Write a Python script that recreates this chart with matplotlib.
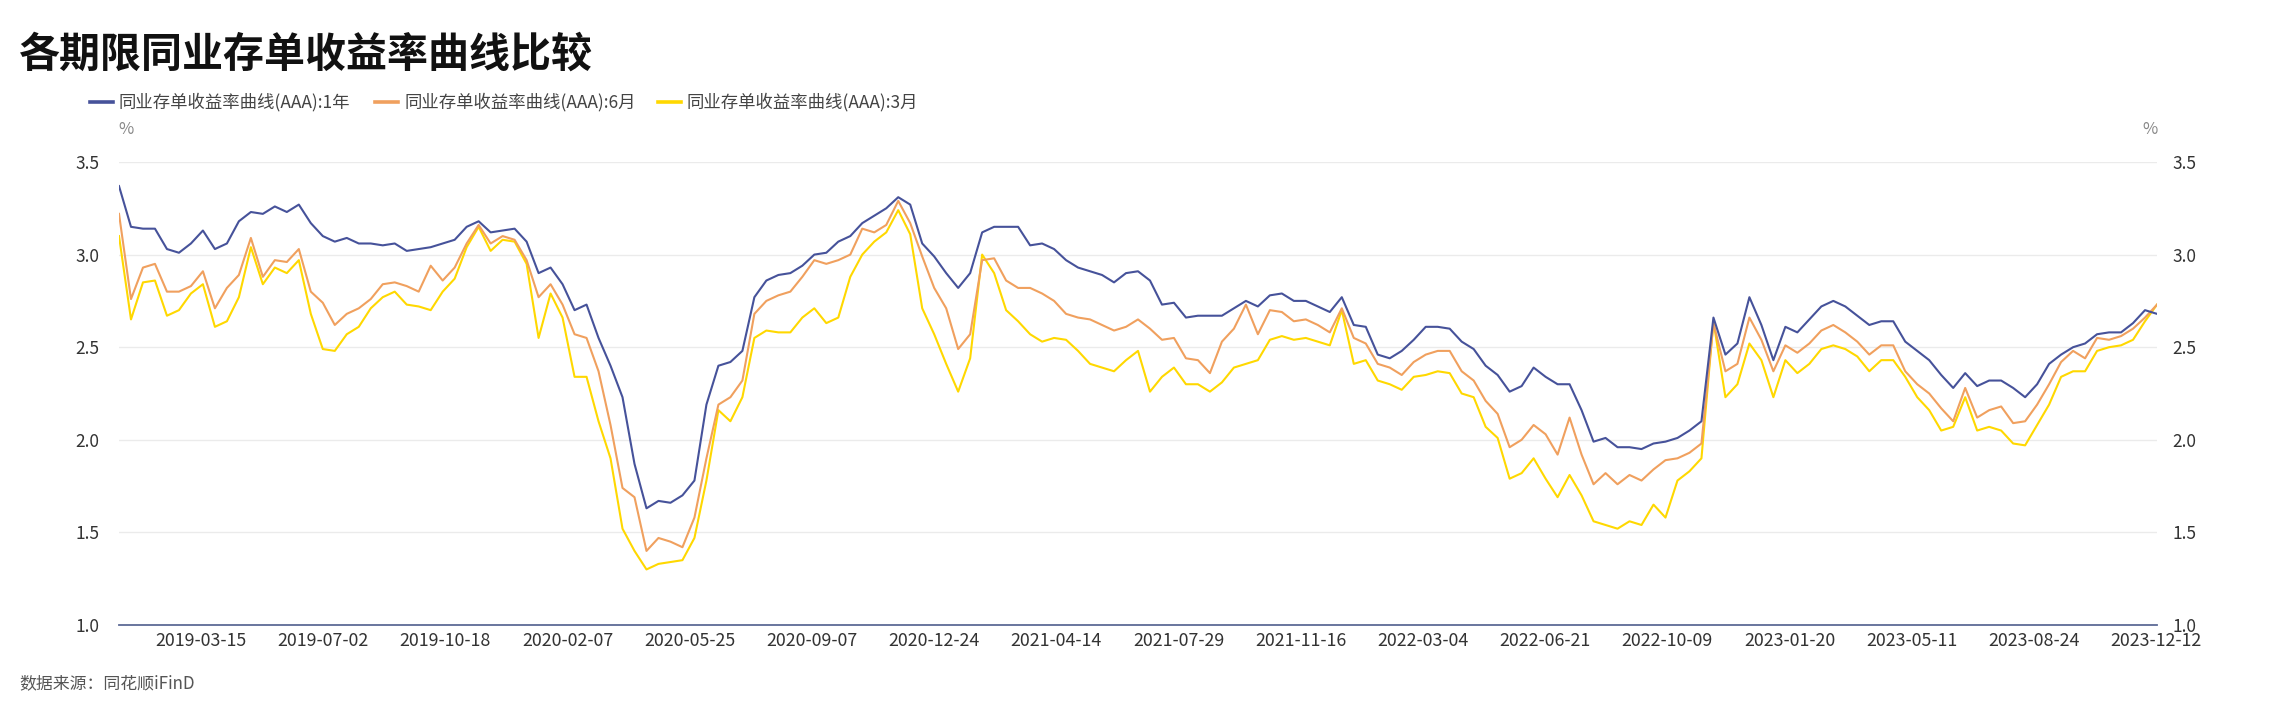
import numpy as np
import matplotlib
matplotlib.use("Agg")
import matplotlib.pyplot as plt
from matplotlib.lines import Line2D

plt.rcParams['font.family'] = ['Noto Sans CJK SC', 'DejaVu Sans']

title = "各期限同业存单收益率曲线比较"
source = "数据来源：同花顺iFinD"
series_names = ["同业存单收益率曲线(AAA):1年", "同业存单收益率曲线(AAA):6月", "同业存单收益率曲线(AAA):3月"]
colors = ["#46529a", "#f0a05e", "#ffd800"]

date_labels = ["2019-03-15", "2019-07-02", "2019-10-18", "2020-02-07", "2020-05-25",
               "2020-09-07", "2020-12-24", "2021-04-14", "2021-07-29", "2021-11-16",
               "2022-03-04", "2022-06-21", "2022-10-09", "2023-01-20", "2023-05-11",
               "2023-08-24", "2023-12-12"]

y_1y = [3.37, 3.15, 3.14, 3.14, 3.03, 3.01, 3.06, 3.13, 3.03, 3.06, 3.18, 3.23, 3.22, 3.26, 3.23, 3.27, 3.17, 3.10, 3.07, 3.09, 3.06, 3.06, 3.05, 3.06, 3.02,
        3.03, 3.04, 3.06, 3.08, 3.15, 3.18, 3.12, 3.13, 3.14, 3.07, 2.90, 2.93, 2.84, 2.70, 2.73, 2.55, 2.40, 2.23, 1.87, 1.63, 1.67, 1.66, 1.70, 1.78, 2.19,
        2.40, 2.42, 2.48, 2.77, 2.86, 2.89, 2.90, 2.94, 3.00, 3.01, 3.07, 3.10, 3.17, 3.21, 3.25, 3.31, 3.27, 3.06, 2.99, 2.90, 2.82, 2.90, 3.12, 3.15,
        3.15, 3.15, 3.05, 3.06, 3.03, 2.97, 2.93, 2.91, 2.89, 2.85, 2.90, 2.91, 2.86, 2.73, 2.74, 2.66, 2.67, 2.67, 2.67, 2.71, 2.75, 2.72, 2.78, 2.79, 2.75,
        2.75, 2.72, 2.69, 2.77, 2.62, 2.61, 2.46, 2.44, 2.48, 2.54, 2.61, 2.61, 2.60, 2.53, 2.49, 2.40, 2.35, 2.26, 2.29, 2.39, 2.34, 2.30, 2.30, 2.16, 1.99,
        2.01, 1.96, 1.96, 1.95, 1.98, 1.99, 2.01, 2.05, 2.10, 2.66, 2.46, 2.52, 2.77, 2.62, 2.43, 2.61, 2.58, 2.65, 2.72, 2.75, 2.72, 2.67, 2.62, 2.64,
        2.64, 2.53, 2.48, 2.43, 2.35, 2.28, 2.36, 2.29, 2.32, 2.32, 2.28, 2.23, 2.30, 2.41, 2.46, 2.50, 2.52, 2.57, 2.58, 2.58, 2.63, 2.70, 2.68]

y_6m = [3.22, 2.76, 2.93, 2.95, 2.80, 2.80, 2.83, 2.91, 2.71, 2.82, 2.89, 3.09, 2.88, 2.97, 2.96, 3.03, 2.80, 2.74, 2.62, 2.68, 2.71, 2.76, 2.84, 2.85, 2.83,
        2.80, 2.94, 2.86, 2.93, 3.06, 3.16, 3.06, 3.10, 3.08, 2.97, 2.77, 2.84, 2.73, 2.57, 2.55, 2.37, 2.08, 1.74, 1.69, 1.40, 1.47, 1.45, 1.42, 1.58, 1.90,
        2.19, 2.23, 2.32, 2.68, 2.75, 2.78, 2.80, 2.88, 2.97, 2.95, 2.97, 3.00, 3.14, 3.12, 3.16, 3.29, 3.17, 2.99, 2.82, 2.71, 2.49, 2.57, 2.97, 2.98,
        2.86, 2.82, 2.82, 2.79, 2.75, 2.68, 2.66, 2.65, 2.62, 2.59, 2.61, 2.65, 2.60, 2.54, 2.55, 2.44, 2.43, 2.36, 2.53, 2.60, 2.73, 2.57, 2.70, 2.69, 2.64,
        2.65, 2.62, 2.58, 2.71, 2.55, 2.52, 2.41, 2.39, 2.35, 2.42, 2.46, 2.48, 2.48, 2.37, 2.32, 2.21, 2.14, 1.96, 2.00, 2.08, 2.03, 1.92, 2.12, 1.92, 1.76,
        1.82, 1.76, 1.81, 1.78, 1.84, 1.89, 1.90, 1.93, 1.98, 2.63, 2.37, 2.41, 2.66, 2.54, 2.37, 2.51, 2.47, 2.52, 2.59, 2.62, 2.58, 2.53, 2.46, 2.51,
        2.51, 2.37, 2.30, 2.25, 2.17, 2.10, 2.28, 2.12, 2.16, 2.18, 2.09, 2.10, 2.19, 2.30, 2.42, 2.48, 2.44, 2.55, 2.54, 2.56, 2.60, 2.66, 2.73]

y_3m = [3.10, 2.65, 2.85, 2.86, 2.67, 2.70, 2.79, 2.84, 2.61, 2.64, 2.77, 3.04, 2.84, 2.93, 2.90, 2.97, 2.68, 2.49, 2.48, 2.57, 2.61, 2.71, 2.77, 2.80, 2.73,
        2.72, 2.70, 2.80, 2.87, 3.04, 3.15, 3.02, 3.08, 3.07, 2.95, 2.55, 2.79, 2.66, 2.34, 2.34, 2.10, 1.90, 1.52, 1.40, 1.30, 1.33, 1.34, 1.35, 1.47, 1.78,
        2.16, 2.10, 2.23, 2.55, 2.59, 2.58, 2.58, 2.66, 2.71, 2.63, 2.66, 2.88, 3.00, 3.07, 3.12, 3.24, 3.11, 2.71, 2.57, 2.41, 2.26, 2.44, 3.00, 2.90,
        2.70, 2.64, 2.57, 2.53, 2.55, 2.54, 2.48, 2.41, 2.39, 2.37, 2.43, 2.48, 2.26, 2.34, 2.39, 2.30, 2.30, 2.26, 2.31, 2.39, 2.41, 2.43, 2.54, 2.56, 2.54,
        2.55, 2.53, 2.51, 2.70, 2.41, 2.43, 2.32, 2.30, 2.27, 2.34, 2.35, 2.37, 2.36, 2.25, 2.23, 2.07, 2.01, 1.79, 1.82, 1.90, 1.79, 1.69, 1.81, 1.70, 1.56,
        1.54, 1.52, 1.56, 1.54, 1.65, 1.58, 1.78, 1.83, 1.90, 2.64, 2.23, 2.30, 2.52, 2.43, 2.23, 2.43, 2.36, 2.41, 2.49, 2.51, 2.49, 2.45, 2.37, 2.43,
        2.43, 2.34, 2.23, 2.16, 2.05, 2.07, 2.23, 2.05, 2.07, 2.05, 1.98, 1.97, 2.08, 2.19, 2.34, 2.37, 2.37, 2.48, 2.50, 2.51, 2.54, 2.64, 2.73]

y_ticks = [1.0, 1.5, 2.0, 2.5, 3.0, 3.5]

W, H = 2278, 717
fig = plt.figure(figsize=(W / 100, H / 100), dpi=100)
left_px, right_px, top_px, bot_px = 119, 2157, 162, 625
ax = fig.add_axes([left_px / W, 1 - bot_px / H, (right_px - left_px) / W, (bot_px - top_px) / H])

series = [y_1y, y_6m, y_3m]
x_end = 169.83
zorders = [4, 3, 2]
for vals, c, name, z in zip(series, colors, series_names, zorders):
    x = np.linspace(0, x_end, len(vals))
    ax.plot(x, vals, color=c, lw=1.5, label=name, solid_joinstyle='round', zorder=z)

ax.set_xlim(0, x_end)
ax.set_ylim(1.0, 3.5)
tick_pos = [6.833 + 10.183 * k for k in range(len(date_labels))]
ax.set_xticks(tick_pos)
ax.set_xticklabels(date_labels, fontsize=12.8, color="#333333")
ax.set_yticks(y_ticks)
ax.set_yticklabels([f"{v:.1f}" for v in y_ticks], fontsize=12.5, color="#333333")
ax.tick_params(axis='both', length=0)
ax.tick_params(axis='y', pad=14)
ax.tick_params(axis='x', pad=5)
ax.grid(axis='y', color="#ebebeb", lw=1.0)
ax.grid(axis='x', visible=False)
for s in ['top', 'left', 'right']:
    ax.spines[s].set_visible(False)
ax.spines['bottom'].set_color("#5d6a96")
ax.spines['bottom'].set_linewidth(1.3)

ax2 = ax.twinx()
ax2.set_ylim(ax.get_ylim())
ax2.set_yticks(y_ticks)
ax2.set_yticklabels([f"{v:.1f}" for v in y_ticks], fontsize=12.5, color="#333333")
ax2.tick_params(axis='y', length=0, pad=11)
for s in ['top', 'left', 'right', 'bottom']:
    ax2.spines[s].set_visible(False)

fig.text(126 / W, 1 - 129 / H, "%", fontsize=12, color="#888888", ha='center', va='center')
fig.text(2150 / W, 1 - 129 / H, "%", fontsize=12, color="#888888", ha='center', va='center')

fig.text(19 / W, 1 - 55 / H, title, fontsize=29.5, fontweight='heavy', color="#111111", ha='left', va='center')

leg_x = [90, 375, 658]
leg_y = 1 - 102 / H
for x0, c, name in zip(leg_x, colors, series_names):
    fig.add_artist(Line2D([x0 / W, (x0 + 23) / W], [leg_y, leg_y], color=c, lw=2.6, transform=fig.transFigure))
    fig.text((x0 + 29) / W, leg_y, name, fontsize=12.5, color="#444444", ha='left', va='center')

fig.text(19 / W, 1 - 683 / H, source, fontsize=12.2, color="#555555", ha='left', va='center')

fig.savefig("out.png", dpi=100)
